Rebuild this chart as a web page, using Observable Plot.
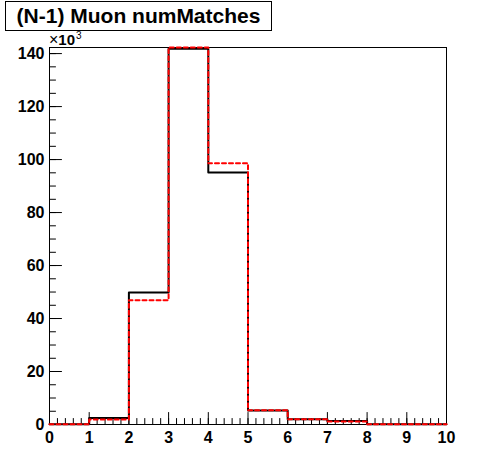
<!DOCTYPE html>
<html>
<head>
<meta charset="utf-8">
<script src="https://cdn.jsdelivr.net/npm/d3@7"></script>
<script src="https://cdn.jsdelivr.net/npm/@observablehq/plot@0.6"></script>
<style>
  body { margin: 0; background: #fff; }
  #wrap { position: relative; width: 496px; height: 472px; }
  #title {
    position: absolute; left: 5px; top: 1px; width: 265px; height: 28px;
    border: 1px solid #000; background: #fff;
    font: bold 21px "Liberation Sans", Arial, sans-serif;
    display: flex; align-items: center; justify-content: center;
    z-index: 2; box-sizing: content-box;
  }
  #exp {
    position: absolute; left: 49px; top: 33px; z-index: 3;
    font: bold 15px "Liberation Sans", Arial, sans-serif; line-height: 13px;
    white-space: nowrap;
  }
  #exp .x { font-weight: normal; font-size: 16px; }
  #exp .s { font-weight: normal; font-size: 10px; position: relative; top: -6px; margin-left: 1px; }
</style>
</head>
<body>
<div id="wrap"><div id="title">(N-1) Muon numMatches</div><div id="exp"></div></div>
<script>
const binEdges = [0, 1, 2, 3, 4, 5, 6, 7, 8, 9, 10];
const blackValues = [0.1, 2.5, 49.8, 141.8, 95.1, 5.3, 2.0, 1.3, 0.1, 0.05];
const redValues   = [0.1, 1.9, 46.9, 142.3, 98.6, 5.4, 2.0, 1.1, 0.1, 0.05];
const xTickLabels = [0, 1, 2, 3, 4, 5, 6, 7, 8, 9, 10];
const yTickLabels = [0, 20, 40, 60, 80, 100, 120, 140];
const yExponent = ["×", "10", "3"];
const yMax = 142.3;

const xMinor = d3.range(0, 10.001, 0.2).map(v => +v.toFixed(1));
const yMinor = d3.range(0, 141, 5);

function stepPts(vals) {
  return binEdges.map((e, i) => ({x: e, y: vals[Math.min(i, vals.length - 1)]}));
}

const tickShape = { draw(context, l) { context.moveTo(0, 0); context.lineTo(0, -l); } };

const font = '"Liberation Sans", Arial, sans-serif';

document.getElementById("exp").innerHTML =
  `<span class="x">${yExponent[0]}</span>${yExponent[1]}<span class="s">${yExponent[2]}</span>`;

const chart = Plot.plot({
  width: 496,
  height: 472,
  marginLeft: 49,
  marginRight: 50,
  marginTop: 47,
  marginBottom: 48,
  style: { fontFamily: font, fontSize: "16px", fontWeight: "bold", background: "#fff", color: "#000" },
  x: { domain: [0, 10] },
  y: { domain: [0, yMax] },
  marks: [
    Plot.frame({ stroke: "#000", strokeWidth: 1 }),
    Plot.axisX({ ticks: xTickLabels, tickSize: 0, tickPadding: 7, label: null, fontSize: 16, fontWeight: "bold" }),
    Plot.axisY({ ticks: yTickLabels, tickSize: 0, tickPadding: 5, label: null, fontSize: 16, fontWeight: "bold" }),
    Plot.vector(xMinor, { x: d => d, y: () => 0, length: 6, anchor: "start", shape: tickShape, stroke: "#000", strokeWidth: 1 }),
    Plot.vector(xTickLabels, { x: d => d, y: () => 0, length: 12, anchor: "start", shape: tickShape, stroke: "#000", strokeWidth: 1 }),
    Plot.vector(yMinor, { x: () => 0, y: d => d, length: 6, rotate: 90, anchor: "start", shape: tickShape, stroke: "#000", strokeWidth: 1 }),
    Plot.vector(yTickLabels, { x: () => 0, y: d => d, length: 12, rotate: 90, anchor: "start", shape: tickShape, stroke: "#000", strokeWidth: 1 }),
    Plot.line(stepPts(blackValues), { x: "x", y: "y", curve: "step-after", stroke: "#000", strokeWidth: 2 }),
    Plot.line(stepPts(redValues), { x: "x", y: "y", curve: "step-after", stroke: "#ff0000", strokeWidth: 2, strokeDasharray: "4,3" })
  ]
});
document.getElementById("wrap").appendChild(chart);
</script>
</body>
</html>
